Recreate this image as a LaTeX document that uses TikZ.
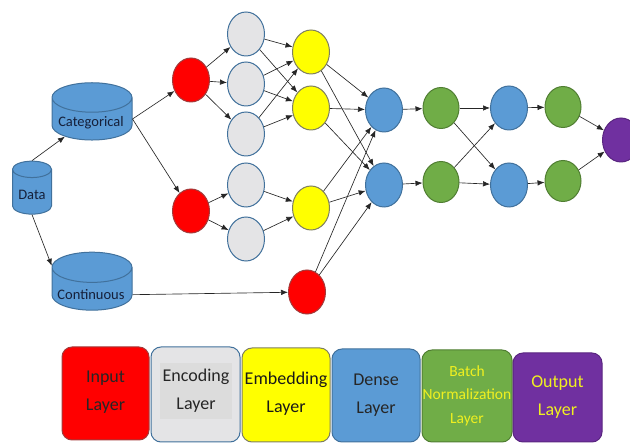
\documentclass[tikz,border=0pt]{standalone}
\usepackage{fontspec}
\setmainfont{Carlito}
\usetikzlibrary{shapes.geometric,arrows.meta}

\definecolor{redfill}{HTML}{FF0000}
\definecolor{redline}{HTML}{A33B3B}
\definecolor{grayfill}{HTML}{E4E4E6}
\definecolor{grayhl}{HTML}{DCDCDC}
\definecolor{blueline}{HTML}{41719C}
\definecolor{yellowfill}{HTML}{FFFF00}
\definecolor{yellowline}{HTML}{7F7F60}
\definecolor{bluefill}{HTML}{5B9BD5}
\definecolor{greenfill}{HTML}{70AD47}
\definecolor{greenline}{HTML}{507E32}
\definecolor{purplefill}{HTML}{7030A0}
\definecolor{purpleline}{HTML}{5A2680}
\definecolor{labelyellow}{HTML}{F0F020}
\definecolor{storeink}{HTML}{15203A}

\tikzset{
  neuron/.style={ellipse, minimum width=37pt, minimum height=44pt, inner sep=0pt, line width=1pt},
  inp/.style={neuron, fill=redfill, draw=redline},
  enc/.style={neuron, fill=grayfill, draw=blueline},
  emb/.style={neuron, fill=yellowfill, draw=yellowline},
  dns/.style={neuron, fill=bluefill, draw=blueline},
  bnorm/.style={neuron, minimum width=36pt, minimum height=41pt, fill=greenfill, draw=greenline},
  outp/.style={neuron, fill=purplefill, draw=purpleline},
  link/.style={-{Latex[length=7pt,width=5.5pt]}, draw=black!85, line width=0.65pt},
  store/.style={cylinder, shape border rotate=90, draw=blueline, fill=bluefill,
    line width=1pt, inner sep=0pt, font=\fontsize{14.5}{16}\selectfont},
  storetext/.style={inner sep=0pt, font=\fontsize{14.5}{16}\selectfont, text=storeink},
  keybox/.style={rectangle, rounded corners=10pt, line width=1pt, inner sep=0pt},
  keytext/.style={align=center, inner sep=0pt, font=\fontsize{18}{28}\selectfont}
}

\begin{document}
\begin{tikzpicture}[x=1pt, y=-1pt]
\useasboundingbox (0,0) rectangle (630,443);
\clip (0,0) rectangle (630,443);

% data sources (the phantom text sizes the end caps)
\node[store, minimum width=39pt, minimum height=53pt, aspect=0.6] (data) at (32,192) {\phantom{Data}};
\node[store, minimum width=80pt, minimum height=54pt, aspect=0.45] (cat) at (92,119) {\phantom{Categorical}};
\node[store, minimum width=80pt, minimum height=58pt, aspect=0.45] (cont) at (92,289) {\phantom{Continuous}};
\node[storetext] (datat) at (32,195) {Data};
\node[storetext] (catt) at (91,123) {Categorical};
\node[storetext] (contt) at (91,295) {Continuous};

% input layer
\node[inp] (r1) at (191,80) {};
\node[inp] (r2) at (191,211) {};
\node[inp] (r3) at (307,292) {};

% encoding layer
\node[enc] (g1) at (246,34) {};
\node[enc] (g2) at (246,84) {};
\node[enc] (g3) at (246,134) {};
\node[enc] (g4) at (246,185) {};
\node[enc] (g5) at (246,239) {};

% embedding layer
\node[emb] (y1) at (311,52) {};
\node[emb] (y2) at (311,108) {};
\node[emb] (y3) at (311,208) {};

% dense / batch-norm / dense / batch-norm / output
\node[dns] (d1) at (384,110) {};
\node[dns] (d2) at (384,185) {};
\node[bnorm] (n1) at (441,108) {};
\node[bnorm] (n2) at (441,182) {};
\node[dns] (d3) at (509,108) {};
\node[dns] (d4) at (509,185) {};
\node[bnorm] (n3) at (563,107) {};
\node[bnorm] (n4) at (563,181) {};
\node[outp] (o) at (621,140) {};

% connectors
\draw[link] (data.90) -- (cat.213);
\draw[link] (data.270) -- (cont.150);
\draw[link] (cat.0) -- (r1);
\draw[link] (cat.0) -- (r2);
\draw[link] (cont.-8) -- (r3);

\foreach \g in {g1,g2,g3} \draw[link] (r1) -- (\g);
\foreach \g in {g4,g5} \draw[link] (r2) -- (\g);
\foreach \g in {g1,g2,g3} {
  \draw[link] (\g) -- (y1);
  \draw[link] (\g) -- (y2);
}
\foreach \g in {g4,g5} \draw[link] (\g) -- (y3);
\foreach \s in {y1,y2,y3,r3} {
  \draw[link] (\s) -- (d1);
  \draw[link] (\s) -- (d2);
}
\draw[link] (d1) -- (n1);
\draw[link] (d2) -- (n2);
\foreach \s in {n1,n2} {
  \draw[link] (\s) -- (d3);
  \draw[link] (\s) -- (d4);
}
\draw[link] (d3) -- (n3);
\draw[link] (d4) -- (n4);
\draw[link] (n3) -- (o);
\draw[link] (n4) -- (o);

% legend
\node[keybox, fill=redfill, draw=redline, minimum width=87pt, minimum height=93pt] (kin) at (105.5,393.5) {};
\node[keybox, fill=grayfill, draw=blueline, minimum width=89pt, minimum height=95pt] (kenc) at (195.5,394.5) {};
\node[keybox, fill=yellowfill, draw=yellowline, minimum width=88pt, minimum height=94pt] (kemb) at (286,395) {};
\node[keybox, fill=bluefill, draw=blueline, minimum width=88pt, minimum height=93pt] (kdns) at (376,395.5) {};
\node[keybox, fill=greenfill, draw=greenline, minimum width=90pt, minimum height=92pt] (kbn) at (467,396) {};
\node[keybox, fill=purplefill, draw=purpleline, minimum width=89pt, minimum height=89pt] (kout) at (557.5,397.5) {};

\node[keytext, text=black!85] (tin) at (105.5,392) {Input\\Layer};
\node[keytext, text=black!85, fill=grayhl, minimum width=72pt, minimum height=56pt] (tenc) at (196,391) {Encoding\\Layer};
\node[keytext, text=black!90] (temb) at (286,394) {Embedding\\Layer};
\node[keytext, text=black!85] (tdns) at (376,395) {Dense\\Layer};
\node[keytext, text=labelyellow, font=\fontsize{15.5}{23.5}\selectfont] (tbn) at (467,395.5) {Batch\\Normalization\\Layer};
\node[keytext, text=labelyellow] (tout) at (557.5,397.5) {Output\\Layer};
\end{tikzpicture}
\end{document}
